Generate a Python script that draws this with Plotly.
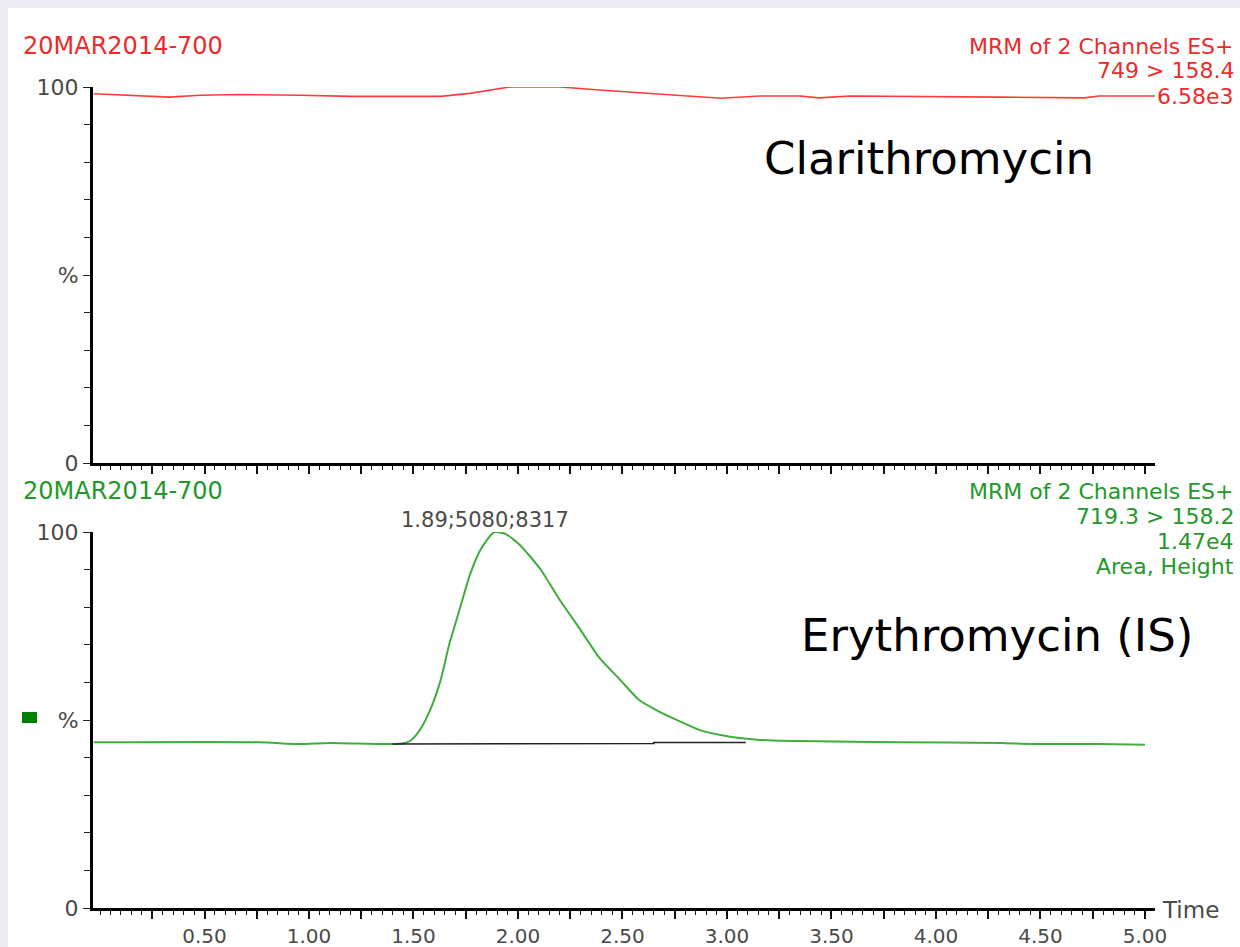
import plotly.graph_objects as go

# ---------------- data ----------------
top_time = [-0.03, 0.22, 0.33, 0.48, 0.67, 0.96, 1.20, 1.63, 1.77, 1.96, 2.20, 2.39,
            2.63, 2.87, 2.97, 3.16, 3.35, 3.44, 3.59, 4.31, 4.64, 4.71, 4.78, 5.05]
top_pct = [98.2, 97.6, 97.3, 97.8, 98.0, 97.8, 97.5, 97.5, 98.3, 100.0, 100.0, 99.2,
           98.3, 97.4, 97.0, 97.6, 97.6, 97.1, 97.6, 97.3, 97.3, 97.1, 97.6, 97.6]

bot_time = [-0.03, 0.76, 0.95, 1.10, 1.39, 1.46, 1.49, 1.53, 1.58, 1.63, 1.67, 1.72,
            1.77, 1.82, 1.87, 1.89, 1.94, 2.01, 2.11, 2.20, 2.30, 2.39, 2.49, 2.58,
            2.68, 2.78, 2.87, 2.97, 3.06, 3.16, 3.35, 3.83, 4.31, 4.45, 4.78, 5.00]
bot_pct = [44.1, 44.1, 43.6, 43.9, 43.6, 43.9, 44.7, 47.3, 52.7, 60.6, 69.9, 79.3,
           88.6, 95.2, 99.2, 100.0, 99.5, 96.5, 89.9, 81.9, 73.9, 66.5, 60.6, 55.3,
           52.1, 49.5, 47.3, 46.0, 45.2, 44.7, 44.4, 44.1, 43.9, 43.6, 43.6, 43.4]

base_time = [1.40, 1.78, 1.78, 2.65, 2.65, 3.09]
base_pct = [43.6, 43.6, 43.75, 43.75, 44.0, 44.0]

x_tickvals = [0.25 * i for i in range(1, 21)]
x_ticktext = [f"{v:.2f}" if abs((v / 0.5) - round(v / 0.5)) < 1e-9 else "" for v in x_tickvals]
y_tickvals = [0, 50, 100]
y_ticktext = ["0", "%", "100"]

top_header_left = "20MAR2014-700"
top_header_right = ["MRM of 2 Channels ES+", "749 > 158.4", "6.58e3"]
bot_header_left = "20MAR2014-700"
bot_header_right = ["MRM of 2 Channels ES+", "719.3 > 158.2", "1.47e4", "Area, Height"]
peak_label = "1.89;5080;8317"

# ---------------- layout helpers ----------------
W, H = 1240, 947
L, R, T, B = 93, 1155, 87, 908
pw, ph = R - L, B - T


def px(x):
    return (x - L) / pw


def py(y):
    return (B - y) / ph


RED_LINE = "#ff3b3b"
RED_TXT = "#ee2a2a"
GREEN_LINE = "#3fae3f"
GREEN_TXT = "#23982b"
GRAY = "#4a4a4a"
FONT = "DejaVu Sans, Verdana, sans-serif"

fig = go.Figure()
fig.add_trace(go.Scatter(x=top_time, y=top_pct, mode="lines",
                         line=dict(color=RED_LINE, width=1.6), xaxis="x", yaxis="y",
                         showlegend=False, hoverinfo="skip", cliponaxis=False))
fig.add_trace(go.Scatter(x=bot_time, y=bot_pct, mode="lines",
                         line=dict(color=GREEN_LINE, width=2, shape="spline", smoothing=0.6),
                         xaxis="x2", yaxis="y2", showlegend=False, hoverinfo="skip",
                         cliponaxis=False))
fig.add_trace(go.Scatter(x=base_time, y=base_pct, mode="lines",
                         line=dict(color="#222222", width=1.6), xaxis="x2", yaxis="y2",
                         showlegend=False, hoverinfo="skip"))

top_dom = [py(463), 1.0]
bot_dom = [0.0, py(532)]
xr = [-0.0335, 5.048]

common_x = dict(range=xr, showgrid=False, zeroline=False, showline=True, linecolor="black",
                linewidth=2.5, ticks="outside", ticklen=8, tickwidth=1.5, tickcolor="#111",
                tickvals=x_tickvals, automargin=False,
                minor=dict(dtick=0.05, tick0=0, ticks="outside", ticklen=4, tickwidth=1,
                           tickcolor="#111"),
                tickfont=dict(family=FONT, size=20, color=GRAY), fixedrange=True)
common_y = dict(range=[0, 100], showgrid=False, zeroline=False, showline=True,
                linecolor="black", linewidth=3, ticks="outside", ticklen=7, tickwidth=1.2,
                tickcolor="#222", tickvals=y_tickvals, ticktext=y_ticktext, automargin=False,
                minor=dict(dtick=10, tick0=0, ticks="outside", ticklen=6, tickwidth=1.2,
                           tickcolor="#222"),
                tickfont=dict(family=FONT, size=22, color=GRAY), fixedrange=True)

fig.update_layout(
    width=W, height=H, autosize=False,
    margin=dict(l=L, r=W - R, t=T, b=H - B, autoexpand=False),
    paper_bgcolor="white", plot_bgcolor="white",
    xaxis=dict(common_x, domain=[0, 1], anchor="y", ticktext=[""] * len(x_tickvals)),
    yaxis=dict(common_y, domain=top_dom, anchor="x"),
    xaxis2=dict(common_x, domain=[0, 1], anchor="y2", ticktext=x_ticktext),
    yaxis2=dict(common_y, domain=bot_dom, anchor="x2"),
    showlegend=False,
)

ann = []


def add_text(text, x, y, color, size=22, xanchor="left", family=FONT):
    ann.append(dict(text=text, x=px(x), y=py(y), xref="paper", yref="paper",
                    xanchor=xanchor, yanchor="middle", showarrow=False,
                    font=dict(family=family, size=size, color=color)))


add_text(top_header_left, 21, 46, RED_TXT, size=24)
for i, t in enumerate(top_header_right):
    add_text(t, 1236, 46 + 25 * i, RED_TXT, xanchor="right")
add_text(bot_header_left, 21, 491, GREEN_TXT, size=24)
for i, t in enumerate(bot_header_right):
    add_text(t, 1236, 491 + 25 * i, GREEN_TXT, xanchor="right")
add_text(peak_label, 485, 520, GRAY, size=21, xanchor="center")
add_text("Time", 1160, 910, GRAY, size=23)
add_text("Clarithromycin", 929, 158, "black", size=45, xanchor="center")
add_text("Erythromycin (IS)", 997, 635, "black", size=45, xanchor="center")
fig.update_layout(annotations=ann)

shapes = [
    # dotted page border strips
    dict(type="rect", xref="paper", yref="paper", x0=px(0), x1=px(8), y0=py(H), y1=py(0),
         fillcolor="#ecebf4", line=dict(width=0), layer="below"),
    dict(type="rect", xref="paper", yref="paper", x0=px(0), x1=px(W), y0=py(8), y1=py(0),
         fillcolor="#ecebf4", line=dict(width=0), layer="below"),
    # legend marker
    dict(type="rect", xref="paper", yref="paper", x0=px(22), x1=px(37), y0=py(723), y1=py(712),
         fillcolor="#008000", line=dict(width=0)),
]
fig.update_layout(shapes=shapes)

fig.write_html("out.html", config={"responsive": False})
